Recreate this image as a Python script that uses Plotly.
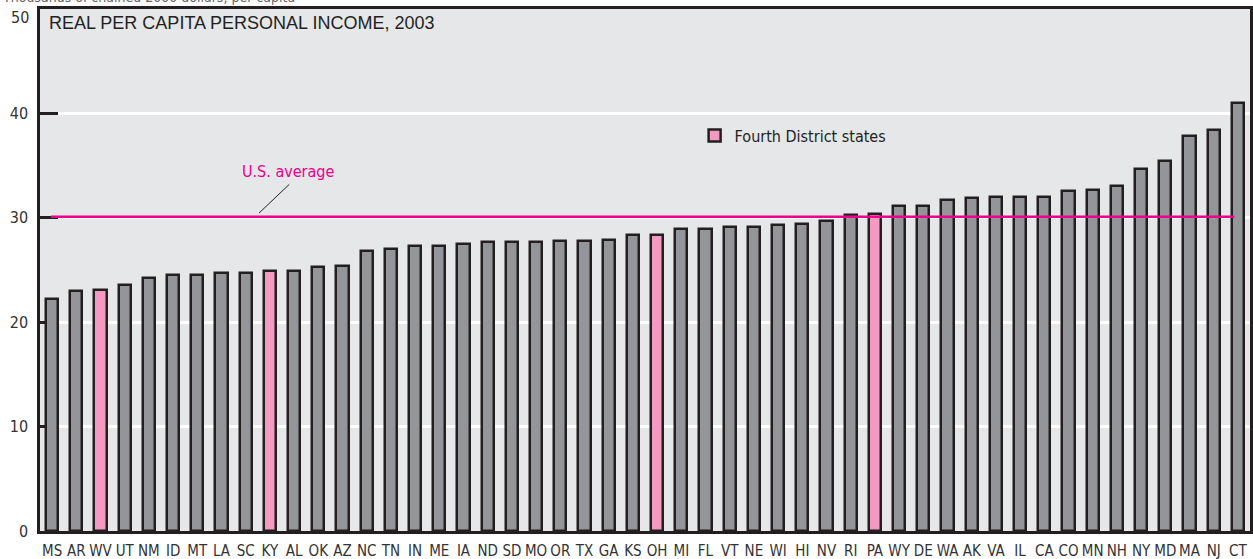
import plotly.graph_objects as go

states = ["MS","AR","WV","UT","NM","ID","MT","LA","SC","KY","AL","OK","AZ","NC","TN","IN","ME","IA","ND","SD",
          "MO","OR","TX","GA","KS","OH","MI","FL","VT","NE","WI","HI","NV","RI","PA","WY","DE","WA","AK","VA",
          "IL","CA","CO","MN","NH","NY","MD","MA","NJ","CT"]
income = [22.2,23.0,23.1,23.6,24.2,24.5,24.5,24.7,24.7,24.9,24.9,25.3,25.4,26.8,27.0,27.3,27.3,27.5,27.7,27.7,
          27.7,27.8,27.8,27.9,28.4,28.4,28.9,28.9,29.1,29.1,29.3,29.4,29.7,30.3,30.4,31.1,31.1,31.7,31.9,32.0,
          32.0,32.0,32.6,32.7,33.0,34.7,35.4,37.8,38.4,41.0]
fourth_district = ["WV","KY","OH","PA"]
us_average = 30.1
y_ticks = [0, 10, 20, 30, 40, 50]

other_x = [s for s in states if s not in fourth_district]
other_y = [v for s, v in zip(states, income) if s not in fourth_district]
fd_x = [s for s in states if s in fourth_district]
fd_y = [v for s, v in zip(states, income) if s in fourth_district]

DARK = "#231f20"
NARROW = "DejaVu Sans Condensed, Roboto Condensed, Liberation Sans Narrow, Arial Narrow, sans-serif"

fig = go.Figure()
fig.add_trace(go.Bar(x=other_x, y=other_y, width=0.5, showlegend=False,
                     marker=dict(color="#939598", line=dict(color=DARK, width=2.5))))
fig.add_trace(go.Bar(x=fd_x, y=fd_y, width=0.5, name="Fourth District states",
                     marker=dict(color="#f49ac1", line=dict(color=DARK, width=2.5))))

fig.add_shape(type="line", xref="x", yref="y", x0=-0.05, x1=48.85, y0=us_average, y1=us_average,
              line=dict(color="#ec008c", width=2.5), layer="above")
fig.add_shape(type="line", xref="x", yref="y", x0=8.55, x1=9.8, y0=30.45, y1=33.2,
              line=dict(color=DARK, width=1), layer="above")
fig.add_annotation(x=9.75, y=34.4, xref="x", yref="y", text="U.S. average", showarrow=False,
                   font=dict(family=NARROW, size=16, color="#ec008c"))
fig.add_annotation(x=0.006, y=0.973, xref="paper", yref="paper", xanchor="left", yanchor="middle",
                   text="REAL PER CAPITA PERSONAL INCOME, 2003", showarrow=False,
                   font=dict(family="Liberation Sans, Arial, sans-serif", size=18, color=DARK))
fig.add_annotation(x=-0.033, y=1.003, xref="paper", yref="paper", xanchor="left", yanchor="bottom",
                   text="Thousands of chained 2000 dollars, per capita", showarrow=False,
                   font=dict(family=NARROW, size=14, color="#666666"))
# top tick label, nudged down below the frame as in the original
fig.add_annotation(x=0, y=y_ticks[-1], xref="paper", yref="y", xanchor="right", yanchor="middle",
                   xshift=-9, yshift=-8, text=str(y_ticks[-1]), showarrow=False,
                   font=dict(family=NARROW, size=16, color="#333333"))

fig.update_layout(
    width=1253, height=559,
    margin=dict(l=40, r=3, t=9, b=28),
    paper_bgcolor="white", plot_bgcolor="#e6e7e8",
    barmode="overlay", bargap=0,
    showlegend=True,
    legend=dict(x=0.541, y=0.79, xanchor="left", yanchor="top", bgcolor="rgba(0,0,0,0)",
                font=dict(family=NARROW, size=16, color=DARK)),
    xaxis=dict(categoryorder="array", categoryarray=states, range=[-0.5, 49.5], automargin=False,
               showgrid=False, ticks="", showline=True, linecolor=DARK, linewidth=2.5, mirror=True,
               tickfont=dict(family=NARROW, size=15, color="#333333"), tickangle=0, fixedrange=True,
               ticklabelstandoff=4),
    yaxis=dict(range=[0, 50], tickvals=y_ticks[:-1], showgrid=True, gridcolor="white", gridwidth=2.5,
               ticks="inside", ticklen=18, tickwidth=2.5, tickcolor=DARK, layer="below traces",
               showline=True, linecolor=DARK, linewidth=2.5, mirror=True, zeroline=False,
               automargin=False,
               tickfont=dict(family=NARROW, size=16, color="#333333"), ticklabelstandoff=6),
    font=dict(family=NARROW),
)

fig.write_html("out.html", post_script="document.body.style.margin='0';",
               config={"displayModeBar": False})
